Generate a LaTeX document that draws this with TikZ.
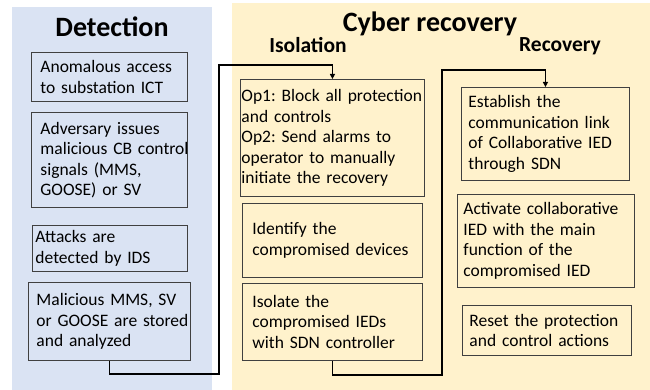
\documentclass[tikz,border=0pt]{standalone}
\usepackage{fontspec}
\setmainfont{Carlito}
\usetikzlibrary{arrows.meta}
\definecolor{detbg}{HTML}{DAE3F3}
\definecolor{recbg}{HTML}{FFF2CC}
\definecolor{boxline}{HTML}{404040}
\newcommand\Ln[1]{\mbox{#1}}
\frenchspacing
\tikzset{
  box/.style={draw=boxline, line width=0.9pt, align=left, anchor=north west,
    inner ysep=0pt, font=\fontsize{17.5}{20.5}\selectfont},
  maintitle/.style={font=\bfseries\fontsize{28}{30}\selectfont, anchor=base},
  subtitle/.style={font=\bfseries\fontsize{21.5}{23}\selectfont, anchor=base},
  flow/.style={line width=1.5pt, black, -{Triangle[length=5pt,width=5pt]}},
}
\begin{document}
\begin{tikzpicture}[x=1pt, y=-1pt]
\useasboundingbox (0,0) rectangle (650,390);
\fill[detbg] (12,7) rectangle (212,390);
\fill[recbg] (232,3) rectangle (650,390);

\node[maintitle] (tdet) at (112,37) {Detection};
\node[maintitle] (trec) at (430,32) {Cyber recovery};
\node[subtitle] (tiso) at (308,53) {Isolation};
\node[subtitle] (trcv) at (560,52) {Recovery};

% Detection
\node[box, inner xsep=9pt, text width=138pt, minimum height=49pt] (d1) at (31,52)
  {\Ln{Anomalous access}\\\Ln{to substation ICT}};
\node[box, inner xsep=9pt, text width=138pt, minimum height=95pt] (d2) at (31,112)
  {\Ln{Adversary issues}\\\Ln{malicious CB control}\\\Ln{signals (MMS,}\\\Ln{GOOSE) or SV}};
\node[box, inner xsep=3pt, text width=149pt, minimum height=46pt] (d3) at (32,225)
  {\Ln{Attacks are}\\\Ln{detected by IDS}};
\node[box, inner xsep=8pt, text width=146pt, minimum height=78pt] (d4) at (28,282)
  {\Ln{Malicious MMS, SV}\\\Ln{or GOOSE are stored}\\\Ln{and analyzed}};

% Isolation
\node[box, inner xsep=1pt, text width=182pt, minimum height=117pt] (i1) at (240,79)
  {\Ln{Op1: Block all protection}\\\Ln{and controls}\\\Ln{Op2: Send alarms to}\\\Ln{operator to manually}\\\Ln{initiate the recovery}};
\node[box, inner xsep=10pt, text width=160pt, minimum height=74pt] (i2) at (242,203)
  {\Ln{Identify the}\\\Ln{compromised devices}};
\node[box, inner xsep=10pt, text width=160pt, minimum height=77pt] (i3) at (242,283)
  {\Ln{Isolate the}\\\Ln{compromised IEDs}\\\Ln{with SDN controller}};

% Recovery
\node[box, inner xsep=7pt, text width=154pt, minimum height=93pt] (r1) at (461,87)
  {\Ln{Establish the}\\\Ln{communication link}\\\Ln{of Collaborative IED}\\\Ln{through SDN}};
\node[box, inner xsep=6pt, text width=165pt, minimum height=93pt] (r2) at (457,194)
  {\Ln{Activate collaborative}\\\Ln{IED with the main}\\\Ln{function of the}\\\Ln{compromised IED}};
\node[box, inner xsep=7pt, text width=155pt, minimum height=50pt] (r3) at (462,305)
  {\Ln{Reset the protection}\\\Ln{and control actions}};

% Connectors
\coordinate (k1) at (219,374);
\coordinate (k2) at (219,65);
\coordinate (k3) at (442,375);
\coordinate (k4) at (442,70);
\draw[flow] (d4.south) |- (k1) -- (k2) -| (i1.north);
\draw[flow] (i3.south) |- (k3) -- (k4) -| (r1.north);
\end{tikzpicture}
\end{document}
